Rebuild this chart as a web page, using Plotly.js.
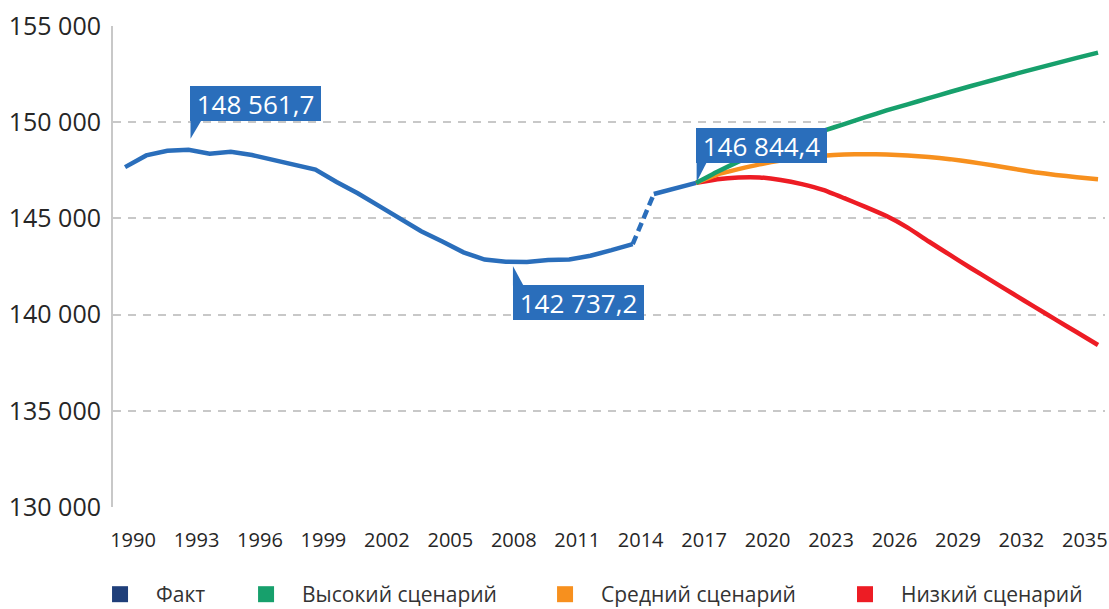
<!DOCTYPE html>
<html>
<head>
<meta charset="utf-8">
<script src="https://cdn.plot.ly/plotly-3.0.1.min.js"></script>
<style>
  html, body { margin: 0; padding: 0; background: #ffffff; }
  #chart { width: 1109px; height: 609px; }
</style>
</head>
<body>
<div id="chart"></div>
<script>
// ---- Data (thousand people) ----
const factYears = [1990,1991,1992,1993,1994,1995,1996,1997,1998,1999,2000,2001,2002,2003,2004,2005,2006,2007,2008,2009,2010,2011,2012,2013,2014,2015,2016,2017];
const factValues = [147665.1,148273.7,148514.7,148561.7,148355.9,148459.9,148291.6,148028.6,147802.1,147539.4,146890.1,146303.6,145649.3,144963.6,144333.6,143801.0,143236.6,142862.7,142747.5,142737.2,142833.5,142865.4,143056.4,143347.1,143666.9,146267.3,146544.7,146844.4];
const breakYear = 2014; // dashed link between 2014 and 2015

const scenYears = [2017,2018,2019,2020,2021,2022,2023,2024,2025,2026,2027,2028,2029,2030,2031,2032,2033,2034,2035,2036];
const highValues = [146844.4,147420,147950,148430,148850,149210,149550,149900,150260,150610,150930,151250,151570,151880,152180,152480,152770,153060,153340,153615];
const midValues  = [146844.4,147280,147560,147810,148010,148160,148260,148320,148340,148320,148270,148190,148080,147930,147760,147580,147400,147260,147140,147040];
const lowValues  = [146844.4,147040,147130,147130,147000,146780,146480,146050,145600,145120,144520,143800,143100,142410,141740,141070,140400,139740,139080,138420];

const seriesNames = ['Факт','Высокий сценарий','Средний сценарий','Низкий сценарий'];
const calloutYears = [1993, 2009, 2017];

const tickYears = [1990,1993,1996,1999,2002,2005,2008,2011,2014,2017,2020,2023,2026,2029,2032,2035];
const yTicks = [130000,135000,140000,145000,150000,155000];

// ---- Styles ----
const FONT = 'Open Sans, Noto Sans, DejaVu Sans, sans-serif';
const BLUE = '#2a6ebb';
const NAVY = '#1f3f7a';
const GREEN = '#17a06c';
const ORANGE = '#f7901e';
const RED = '#ed1c24';

function fmt(v) {
  const parts = v.toFixed(1).split('.');
  return parts[0].replace(/\B(?=(\d{3})+(?!\d))/g, ' ') + ',' + parts[1];
}
function valAt(year) { return factValues[factYears.indexOf(year)]; }

const bi = factYears.indexOf(breakYear);

const traces = [
  {x: factYears.slice(0, bi + 1), y: factValues.slice(0, bi + 1), mode: 'lines',
   line: {color: BLUE, width: 4.5}, showlegend: false, hoverinfo: 'skip'},
  {x: factYears.slice(bi, bi + 2), y: factValues.slice(bi, bi + 2), mode: 'lines',
   line: {color: BLUE, width: 4.5, dash: '9px,5px'}, showlegend: false, hoverinfo: 'skip'},
  {x: factYears.slice(bi + 1), y: factValues.slice(bi + 1), mode: 'lines',
   line: {color: BLUE, width: 4.5}, showlegend: false, hoverinfo: 'skip'},
  {x: scenYears, y: lowValues, mode: 'lines', line: {color: RED, width: 4.5, shape: 'spline', smoothing: 0.5}, showlegend: false},
  {x: scenYears, y: midValues, mode: 'lines', line: {color: ORANGE, width: 4.5, shape: 'spline', smoothing: 0.5}, showlegend: false},
  {x: scenYears, y: highValues, mode: 'lines', line: {color: GREEN, width: 4.5, shape: 'spline', smoothing: 0.5}, showlegend: false},
];

// legend-only entries (square markers)
const legendColors = [NAVY, GREEN, ORANGE, RED];
const legendIds = ['legend', 'legend2', 'legend3', 'legend4'];
seriesNames.forEach((n, i) => {
  traces.push({x: [null], y: [null], mode: 'markers', name: n,
    marker: {symbol: 'square', size: 16, color: legendColors[i]},
    legend: legendIds[i], showlegend: true});
});

const legendX = [-0.0292, 0.1180, 0.4194, 0.7218];
function legendObj(x) {
  return {x: x, xanchor: 'left', y: -0.182, yanchor: 'middle', orientation: 'h',
    itemwidth: 62, bgcolor: 'rgba(0,0,0,0)', borderwidth: 0,
    font: {family: FONT, size: 21, color: '#333333'}};
}

// callouts
const calloutSpec = [
  {shiftX: 1.5, shiftY: 29, up: true, tail: 'M 2 11 L 2 29.5 L 13 29.5 Z'},
  {shiftX: -14, shiftY: -23, up: false, tail: 'M -14 -4 L -14 -23.5 L -3.5 -23.5 Z'},
  {shiftX: 0, shiftY: 20, up: true, tail: 'M 0.5 1 L 0.5 20.5 L 10.5 20.5 Z'},
];
const annotations = calloutYears.map((yr, i) => ({
  x: yr, y: valAt(yr), xref: 'x', yref: 'y',
  text: fmt(valAt(yr)), showarrow: false,
  xanchor: 'left', yanchor: calloutSpec[i].up ? 'bottom' : 'top',
  xshift: calloutSpec[i].shiftX, yshift: calloutSpec[i].shiftY,
  bgcolor: BLUE, borderpad: 0, borderwidth: 0, width: 131, height: 35,
  font: {family: FONT, size: 26, color: '#ffffff'}
}));
const shapes = calloutYears.map((yr, i) => ({
  type: 'path', xref: 'x', yref: 'y',
  xsizemode: 'pixel', ysizemode: 'pixel', xanchor: yr, yanchor: valAt(yr),
  path: calloutSpec[i].tail, fillcolor: BLUE, line: {width: 0}, layer: 'above'
}));

const layout = {
  width: 1109, height: 609,
  margin: {l: 113, r: 4, t: 26, b: 102, pad: 0, autoexpand: false},
  paper_bgcolor: '#ffffff', plot_bgcolor: '#ffffff',
  separators: ', ',
  font: {family: FONT, color: '#262626'},
  showlegend: true,
  xaxis: {
    range: [1989.43, 2036.33], tickvals: tickYears, ticktext: tickYears.map(String),
    showgrid: false, zeroline: false, showline: false, automargin: false,
    ticks: 'outside', ticklen: 15, tickcolor: 'rgba(0,0,0,0)', ticklabelshift: 8,
    tickfont: {family: FONT, size: 20, color: '#262626'}, fixedrange: true
  },
  yaxis: {
    range: [130000, 155000], tickvals: yTicks, tickformat: ',d', automargin: false,
    showgrid: true, gridcolor: '#c8c8c8', gridwidth: 2, griddash: '8px,7px',
    zeroline: false, showline: true, linecolor: '#c8c8c8', linewidth: 2,
    ticks: 'outside', ticklen: 5, tickcolor: 'rgba(0,0,0,0)',
    tickfont: {family: FONT, size: 25, color: '#262626'}, fixedrange: true
  },
  legend: legendObj(legendX[0]),
  legend2: legendObj(legendX[1]),
  legend3: legendObj(legendX[2]),
  legend4: legendObj(legendX[3]),
  annotations: annotations,
  shapes: shapes
};

Plotly.newPlot('chart', traces, layout, {displayModeBar: false, staticPlot: true});
</script>
</body>
</html>
